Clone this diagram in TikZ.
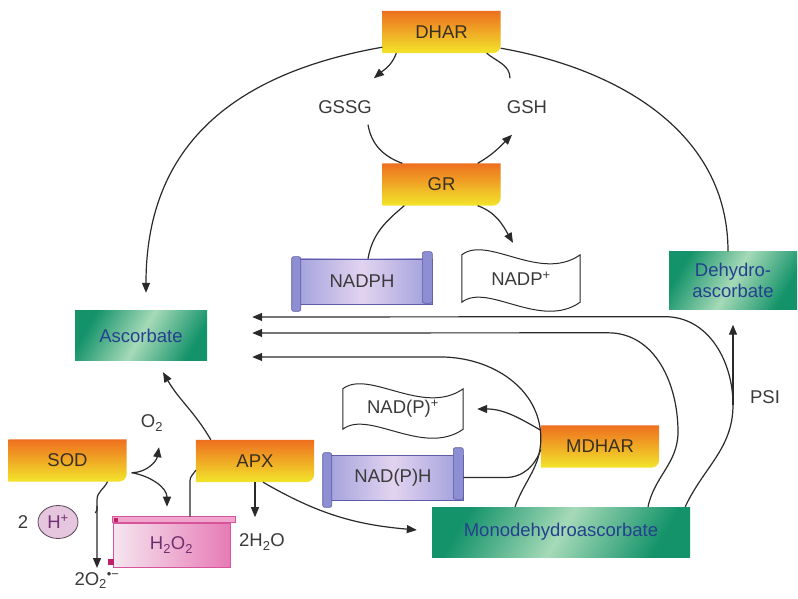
\documentclass[tikz,border=0pt]{standalone}
\usepackage{fontspec}
\setmainfont{Liberation Sans}
\usetikzlibrary{arrows.meta,backgrounds,shapes.geometric}
\definecolor{enzor}{HTML}{EE6F1F}
\definecolor{enzye}{HTML}{F2E52B}
\definecolor{enztxt}{HTML}{3A3020}
\definecolor{grn}{HTML}{14936A}
\definecolor{grnlt}{HTML}{A6DAB8}
\definecolor{asctxt}{HTML}{24408E}
\definecolor{lav}{HTML}{9E9EDB}
\definecolor{lavlt}{HTML}{E2D4F0}
\definecolor{lavdk}{HTML}{5C5CA8}
\definecolor{lavbar}{HTML}{8E8ED2}
\definecolor{pink}{HTML}{E77BB5}
\definecolor{pinklt}{HTML}{F5E6F0}
\definecolor{pinkdk}{HTML}{D6559A}
\definecolor{pinkband}{HTML}{F0A6CC}
\definecolor{magsq}{HTML}{C0206A}
\definecolor{hfill}{HTML}{E6C6DE}
\definecolor{hdraw}{HTML}{5A4A5A}
\definecolor{htxt}{HTML}{703070}
\definecolor{lbltxt}{HTML}{3A3A3A}
\definecolor{linec}{HTML}{2A2A2A}
\tikzset{
  enzyme/.style={minimum width=118pt, minimum height=42pt, inner sep=0pt, text=enztxt},
  vitc/.style={rectangle, left color=grn, right color=grn, middle color=grnlt, shading angle=60, minimum height=50pt, inner sep=0pt, text=asctxt, align=center},
  scroll/.style={rectangle, left color=lav, right color=lav, middle color=lavlt, draw=lavdk, line width=0.6pt, minimum width=140pt, minimum height=45pt, inner sep=0pt, text=lbltxt},
  rollbar/.style={fill=lavbar, draw=lavdk, line width=0.6pt, rounded corners=2pt},
  flag/.style={inner sep=0pt, text=lbltxt},
  wave/.style={draw=linec, line width=1pt, fill=white},
  peroxide/.style={rectangle, left color=pinklt, right color=pink, draw=pinkdk, line width=0.6pt, minimum width=117pt, minimum height=44pt, inner sep=0pt, text=htxt},
  hion/.style={ellipse, fill=hfill, draw=hdraw, line width=0.8pt, minimum width=40pt, minimum height=33pt, inner sep=0pt, text=htxt},
  lbl/.style={text=lbltxt, inner sep=2pt},
  conn/.style={draw=linec, line width=1.2pt},
  arr/.style={conn, -{Triangle[length=10pt,width=8pt]}},
}
\begin{document}
\begin{tikzpicture}[x=1pt,y=1pt,font=\fontsize{18.5}{21}\selectfont]
\useasboundingbox (0,0) rectangle (798,598);
% enzymes
\node[enzyme] (DHAR) at (441.5,566) {DHAR};
\node[enzyme] (GR) at (441.5,413.5) {GR};
\node[enzyme] (SOD) at (67.5,137.5) {SOD};
\node[enzyme] (APX) at (255,137) {APX};
\node[enzyme] (MDHAR) at (600,151.5) {MDHAR};
% ascorbate pool
\node[vitc, minimum width=132pt, minimum height=49pt] (Asc) at (141,262.5) {Ascorbate};
\node[vitc, minimum width=128pt, minimum height=58pt] (DHA) at (733,317.5) {Dehydro-\\ascorbate};
\node[vitc, minimum width=258pt] (MDHA) at (561,66) {Monodehydroascorbate};
% small labels
\node[lbl] (GSSG) at (345,491) {GSSG};
\node[lbl] (GSH) at (527,491) {GSH};
\node[lbl] (O2) at (152,175) {O\textsubscript{2}};
\node[lbl] (H2O) at (262,56) {2H\textsubscript{2}O};
\node[lbl, anchor=north] (O2m) at (97,28) {2O\textsubscript{2}\textsuperscript{•−}};
\node[lbl] (PSI) at (765,201) {PSI};
\node[lbl] (two) at (23,76) {2};
\node[hion] (Hplus) at (58,76) {H\textsuperscript{+}};
% cofactors
\node[scroll] (NADPH) at (362,316.5) {NADPH};
\node[scroll] (NADPPH) at (393,120.5) {NAD(P)H};
\node[flag, minimum width=118pt, minimum height=47pt] (NADP) at (521,319.5) {NADP\textsuperscript{+}};
\node[flag, minimum width=120pt, minimum height=40pt] (NADPP) at (403,189) {NAD(P)\textsuperscript{+}};
\node[peroxide] (H2O2) at (171.5,53) {H\textsubscript{2}O\textsubscript{2}};
\foreach \s in {NADPH,NADPPH}{
  \draw[rollbar] ([yshift=2pt]\s.north west) rectangle ([xshift=9pt,yshift=-7pt]\s.south west);
  \draw[rollbar] ([xshift=-10pt,yshift=7pt]\s.north east) rectangle ([yshift=1pt]\s.south east);
}
\filldraw[fill=pinkband, draw=pinkdk, line width=0.5pt] (H2O2.north west) rectangle ([xshift=5pt,yshift=6pt]H2O2.north east);
\fill[magsq] ([xshift=1pt,yshift=1pt]H2O2.north west) rectangle ++(4,4);
\fill[magsq] ([xshift=-5pt,yshift=2pt]H2O2.south west) rectangle ++(6,6);
\begin{scope}[on background layer]
\fill[white] (0,0) rectangle (798,598);
\foreach \e in {DHAR,GR,SOD,APX,MDHAR}
  \shade[top color=enzor, bottom color=enzye] (\e.north west) -- (\e.north east) -- ([yshift=8pt]\e.south east)
    arc[start angle=0, end angle=-90, radius=8pt] -- (\e.south west) -- cycle;
\foreach \w in {NADP,NADPP}
  \draw[wave] (\w.north west) .. controls +(26,20) and +(-40,-28) .. (\w.north east) -- (\w.south east)
    .. controls +(-40,-28) and +(26,20) .. (\w.south west) -- cycle;
\end{scope}
% glutathione cycle
\draw[arr, shorten >=18pt] ([yshift=6pt]DHAR.south west) to[out=190,in=90,looseness=1.15] ([xshift=5pt]Asc.north);
\draw[conn] ([yshift=5pt]DHAR.south east) to[out=-10,in=90] ([xshift=-5pt]DHA.north);
\draw[arr] ([xshift=14pt]DHAR.south west) to[out=-110,in=40] ([yshift=20pt]GSSG.north east);
\draw[conn] ([xshift=-17pt,yshift=20pt]GSH.north) to[out=90,in=-40] ([xshift=-14pt]DHAR.south east);
\draw[conn] ([xshift=23pt,yshift=-9pt]GSSG.south) to[out=-80,in=160] ([xshift=20pt]GR.north west);
\draw[arr] ([xshift=-23pt]GR.north east) to[out=30,in=-135] ([xshift=-15pt,yshift=-19pt]GSH.south);
\draw[conn] ([xshift=6pt]NADPH.north) to[out=80,in=-140] ([xshift=22pt]GR.south west);
\draw[arr] ([xshift=-23pt]GR.south east) to[out=-20,in=120] ([xshift=-8pt,yshift=12pt]NADP.north);
% back to ascorbate
\coordinate (a1) at ([xshift=45pt,yshift=18.5pt]Asc.east);
\coordinate (a2) at ([xshift=45pt,yshift=2.5pt]Asc.east);
\coordinate (a3) at ([xshift=45pt,yshift=-21.5pt]Asc.east);
\coordinate (psi) at ([yshift=-95pt]DHA.south);
\draw[arr] ([xshift=-5pt]MDHA.north east) to[out=65,in=-90] (psi) to[out=90,in=0] ++(-68,88) -- (a1);
\draw[arr] (psi) -- ([yshift=-15pt]DHA.south);
\draw[arr] ([xshift=87pt]MDHA.north) to[out=78,in=-90] ++(30,75) to[out=90,in=0] ++(-70,99) -- (a2);
\draw[arr] ([xshift=-46pt]MDHA.north) to[out=70,in=-90] ([yshift=8pt]MDHAR.west) to[out=90,in=0] ++(-100,81.5) -- (a3);
\draw[arr] ([yshift=-5pt]MDHAR.north west) to[out=150,in=0] ([xshift=14pt]NADPP.east);
\draw[conn] (NADPPH.east) -- ++(42,0) to[out=0,in=-110] ([yshift=-3pt]MDHAR.west);
% SOD and APX
\draw[arr] ([xshift=8pt]APX.south) to[out=-30,in=175] ([xshift=-15pt,yshift=2pt]MDHA.west);
\draw[arr] ([xshift=15pt]APX.north west) to[out=120,in=-60] ([xshift=22pt,yshift=-12pt]Asc.south);
\draw[arr] (APX.south) -- ([yshift=-35pt]APX.south);
\draw[conn] ([xshift=18.5pt,yshift=6pt]H2O2.north) -- ++(0,36) to[out=90,in=-120] ([yshift=12pt]APX.south west);
\coordinate (sodr) at ([xshift=5pt,yshift=9pt]SOD.south east);
\draw[arr] (sodr) to[out=0,in=-100] ([xshift=7pt,yshift=-14pt]O2.south);
\draw[arr] (sodr) to[out=-10,in=90] ([xshift=-4.5pt,yshift=16pt]H2O2.north);
\draw[arr] ([xshift=40pt]SOD.south) to[out=-115,in=90] ([yshift=70pt]O2m.north) -- ([yshift=2pt]O2m.north);
\draw[conn] ([xshift=17pt,yshift=9pt]Hplus.east) to[out=40,in=-90] ([yshift=64pt]O2m.north);
\end{tikzpicture}
\end{document}
